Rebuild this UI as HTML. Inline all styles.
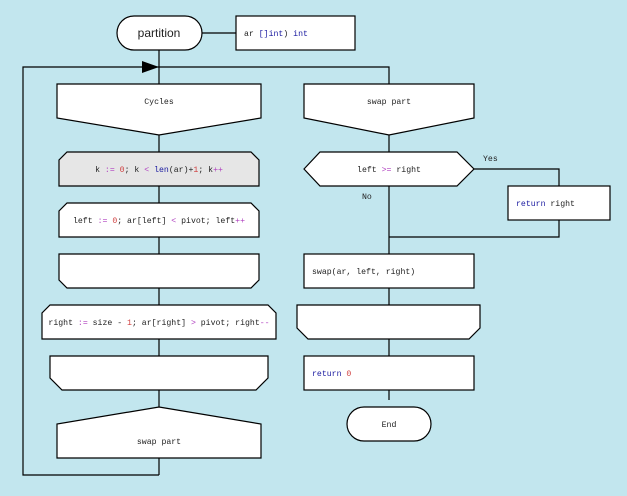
<!DOCTYPE html>
<html><head><meta charset="utf-8"><style>
html,body{margin:0;padding:0;background:#c2e6ee;}
svg{display:block}
text{font-family:"Liberation Mono",monospace;font-size:8.2px;fill:#222;}
.s{font-family:"Liberation Sans",sans-serif;}
.k{fill:#1a1aa0}.o{fill:#b040c0}.n{fill:#d04040}
</style></head><body>
<svg width="627" height="496" viewBox="0 0 627 496" xmlns="http://www.w3.org/2000/svg">
<g fill="none" stroke="#000" stroke-width="1.2">
<line x1="202" y1="33" x2="236" y2="33"/>
<line x1="159" y1="50" x2="159" y2="475"/>
<polyline points="159,475 23,475 23,67 389,67 389,400"/>
<polyline points="474,169 559,169 559,237 389,237"/>
</g>
<polygon points="142,61 159,67 142,73" fill="#000"/>
<g fill="#fff" stroke="#000" stroke-width="1.2">
<rect x="117" y="16" width="85" height="34" rx="17"/>
<rect x="236" y="16" width="119" height="34"/>
<polygon points="57,84 261,84 261,118 159,135 57,118"/>
<polygon points="67,152 251,152 259,160 259,186 59,186 59,160" fill="#e6e6e6"/>
<polygon points="67,203 251,203 259,211 259,237 59,237 59,211"/>
<polygon points="59,254 259,254 259,280 251,288 67,288 59,280"/>
<polygon points="50,305 268,305 276,313 276,339 42,339 42,313"/>
<polygon points="50,356 268,356 268,378 256,390 62,390 50,378"/>
<polygon points="159,407 261,424 261,458 57,458 57,424"/>
<polygon points="304,84 474,84 474,118 389,135 304,118"/>
<polygon points="304,169 320,152 457,152 474,169 457,186 320,186"/>
<rect x="508" y="186" width="102" height="34"/>
<rect x="304" y="254" width="170" height="34"/>
<polygon points="297,305 480,305 480,328 469,339 308,339 297,328"/>
<rect x="304" y="356" width="170" height="34"/>
<rect x="347" y="407" width="84" height="34" rx="17"/>
</g>
<text class="s" x="159" y="37" text-anchor="middle" style="font-size:12px">partition</text>
<text x="244" y="36">ar <tspan class="k">[]int</tspan>) <tspan class="k">int</tspan></text>
<text x="159" y="104" text-anchor="middle">Cycles</text>
<text x="159" y="172" text-anchor="middle">k <tspan class="o">:=</tspan> <tspan class="n">0</tspan>; k <tspan class="o">&lt;</tspan> <tspan class="k">len</tspan>(ar)+<tspan class="n">1</tspan>; k<tspan class="o">++</tspan></text>
<text x="159" y="223" text-anchor="middle">left <tspan class="o">:=</tspan> <tspan class="n">0</tspan>; ar[left] <tspan class="o">&lt;</tspan> pivot; left<tspan class="o">++</tspan></text>
<text x="159" y="325" text-anchor="middle">right <tspan class="o">:=</tspan> size - <tspan class="n">1</tspan>; ar[right] <tspan class="o">&gt;</tspan> pivot; right<tspan class="o">--</tspan></text>
<text x="159" y="444" text-anchor="middle">swap part</text>
<text x="389" y="104" text-anchor="middle">swap part</text>
<text x="389" y="172" text-anchor="middle">left <tspan class="o">&gt;=</tspan> right</text>
<text x="483" y="161">Yes</text>
<text x="362" y="199">No</text>
<text x="516" y="206"><tspan class="k">return</tspan> right</text>
<text x="312" y="274">swap(ar, left, right)</text>
<text x="312" y="376"><tspan class="k">return</tspan> <tspan class="n">0</tspan></text>
<text x="389" y="427" text-anchor="middle">End</text>
</svg>
</body></html>
